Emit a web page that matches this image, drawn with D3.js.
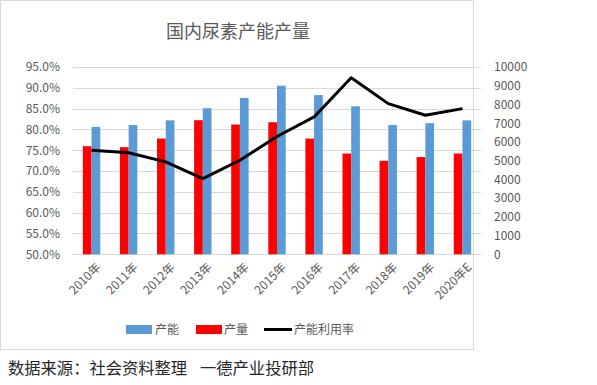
<!DOCTYPE html>
<html><head><meta charset="utf-8">
<script src="https://cdn.jsdelivr.net/npm/d3@7"></script>
<style>
body{margin:0;background:#fff;}
text{font-family:"Noto Sans CJK SC","Noto Sans",sans-serif;}
</style></head>
<body><svg id="c" width="597" height="385"></svg>
<script>
const categories = ["2010年","2011年","2012年","2013年","2014年","2015年","2016年","2017年","2018年","2019年","2020年E"];
const capacity = [6800,6900,7150,7800,8350,9000,8500,7900,6900,7000,7150];
const output   = [5770,5720,6180,7160,6930,7050,6180,5380,4990,5190,5380];
const utilization = [75.0,74.4,72.2,68.2,72.6,78.3,83.0,92.4,86.2,83.4,85.0];
const leftTicks = [50,55,60,65,70,75,80,85,90,95];
const rightTicks = [0,1000,2000,3000,4000,5000,6000,7000,8000,9000,10000];

const svg = d3.select("#c");
const m = {l:73, r:481, t:67, b:254.3};
const x = d3.scaleBand().domain(categories).range([m.l, m.r]);
const yL = d3.scaleLinear().domain([50,95]).range([m.b, m.t]);
const yR = d3.scaleLinear().domain([0,10000]).range([m.b, m.t]);
const bw = 8.7;

// frame
svg.append("rect").attr("x",0.5).attr("y",0.5).attr("width",473).attr("height",349)
  .attr("fill","#fff").attr("stroke","#d9d9d9");

// title
svg.append("text").attr("x",238).attr("y",38).attr("text-anchor","middle")
  .attr("font-size",18).attr("fill","#595959").text("国内尿素产能产量");

// grid
svg.append("g").selectAll("line").data(leftTicks).join("line")
  .attr("x1",m.l).attr("x2",m.r).attr("y1",d=>Math.round(yL(d))+0.5).attr("y2",d=>Math.round(yL(d))+0.5)
  .attr("stroke","#d9d9d9").attr("stroke-width",1);

// left axis
const ax = d3.axisLeft(yL).tickValues(leftTicks).tickFormat(d=>d.toFixed(1)+"%").tickSize(0).tickPadding(13);
const gL = svg.append("g").attr("transform",`translate(${m.l},0)`).call(ax);
gL.select(".domain").remove();
gL.selectAll("text").attr("font-size",12).attr("fill","#595959").style("font-family","'Noto Sans CJK SC',sans-serif");

// right axis
const axR = d3.axisRight(yR).tickValues(rightTicks).tickFormat(d3.format("d")).tickSize(0).tickPadding(13);
const gR = svg.append("g").attr("transform",`translate(${m.r},0)`).call(axR);
gR.select(".domain").remove();
gR.selectAll("text").attr("font-size",12).attr("fill","#595959").style("font-family","'Noto Sans CJK SC',sans-serif");

// bars
const cx = d => x(d) + x.bandwidth()/2;
svg.append("g").selectAll("rect").data(categories).join("rect")
  .attr("x",(d)=>cx(d)-bw).attr("width",bw)
  .attr("y",(d,i)=>yR(output[i])).attr("height",(d,i)=>yR(0)-yR(output[i]))
  .attr("fill","#ff0000");
svg.append("g").selectAll("rect").data(categories).join("rect")
  .attr("x",(d)=>cx(d)).attr("width",bw)
  .attr("y",(d,i)=>yR(capacity[i])).attr("height",(d,i)=>yR(0)-yR(capacity[i]))
  .attr("fill","#5b9bd5");

// line
const line = d3.line().x((d,i)=>cx(categories[i])).y(d=>yL(d));
svg.append("path").datum(utilization).attr("d",line).attr("fill","none")
  .attr("stroke","#000").attr("stroke-width",3).attr("stroke-linejoin","round");

// x labels
svg.append("g").selectAll("text").data(categories).join("text")
  .attr("transform",d=>`translate(${cx(d)+4},${262}) rotate(-45)`)
  .attr("text-anchor","end").attr("dy","0.7em")
  .attr("font-size",12).attr("fill","#595959").text(d=>d);

// legend
const lg = svg.append("g");
const items = [
  {name:"产能", color:"#5b9bd5", type:"rect", x:126, tx:155},
  {name:"产量", color:"#ff0000", type:"rect", x:196, tx:224},
  {name:"产能利用率", color:"#000", type:"line", x:264, tx:294}
];
items.forEach(it=>{
  if(it.type==="rect"){
    lg.append("rect").attr("x",it.x).attr("y",325).attr("width",26).attr("height",9).attr("fill",it.color);
  } else {
    lg.append("line").attr("x1",it.x).attr("x2",it.x+28).attr("y1",329.5).attr("y2",329.5)
      .attr("stroke",it.color).attr("stroke-width",3);
  }
  lg.append("text").attr("x",it.tx).attr("y",334).attr("font-size",12).attr("fill","#595959").text(it.name);
});

// source
svg.append("text").attr("x",8).attr("y",374).attr("font-size",16.3).attr("fill","#262626")
  .text("数据来源：社会资料整理");
svg.append("text").attr("x",200).attr("y",374).attr("font-size",16.3).attr("fill","#262626")
  .text("一德产业投研部");
</script></body></html>
